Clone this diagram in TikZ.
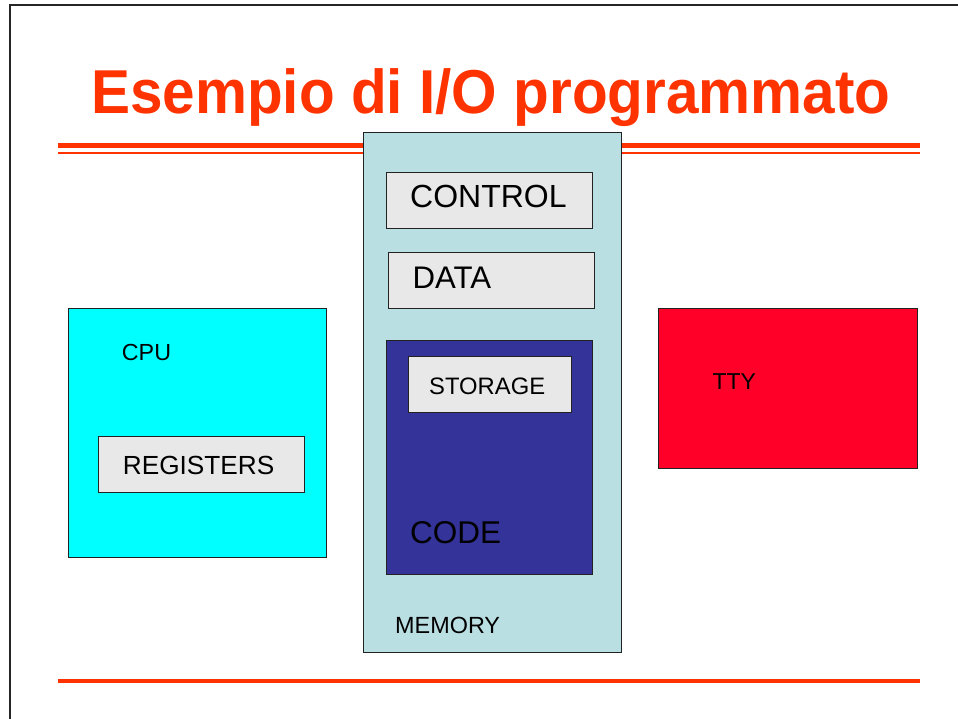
\documentclass[tikz,border=0pt]{standalone}
\usepackage{fontspec}
\setmainfont{Liberation Sans}
\definecolor{titlered}{HTML}{FF3300}
\definecolor{memblue}{HTML}{BADFE3}
\definecolor{boxgray}{HTML}{E8E8E8}
\definecolor{codeblue}{HTML}{333399}
\definecolor{ttyred}{HTML}{FF0029}
\definecolor{cpucyan}{HTML}{00FFFF}
\definecolor{edge}{HTML}{222222}
\tikzset{
  blk/.style={draw=edge, line width=1pt, inner sep=0pt, anchor=north west},
  lbl/.style={inner sep=0pt, anchor=base west, text=black},
}
\newcommand{\fsz}[1]{\fontsize{#1}{#1}\selectfont}
\begin{document}
\begin{tikzpicture}[x=1pt, y=-1pt]
\useasboundingbox (0,0) rectangle (958,719);
\fill[white] (0,0) rectangle (958,719);
% slide frame (top and left edges)
\draw[line width=2pt, black!85] (10,719) -- (10,5) -- (958,5);
% title and rules
\node[inner sep=0pt, anchor=base west, text=titlered, font=\fsz{62}\bfseries] (title) at (91,114) {\scalebox{0.943}[1]{Esempio di I/O programmato}};
\fill[titlered] (58,143.3) rectangle (920,147.7);
\fill[titlered] (58,151.7) rectangle (920,154);
\fill[titlered] (58,679) rectangle (920,683.3);
% memory
\node[blk, fill=memblue, minimum width=258pt, minimum height=520pt] (mem) at (362.5,132.3) {};
\node[blk, fill=boxgray, minimum width=206.5pt, minimum height=56pt] (ctrl) at (385.5,172.2) {};
\node[lbl, font=\fsz{32}] (ctrlt) at (410,208) {CONTROL};
\node[blk, fill=boxgray, minimum width=206.5pt, minimum height=56pt] (data) at (387.5,252.2) {};
\node[lbl, font=\fsz{31.2}] (datat) at (412.5,288) {DATA};
\node[blk, fill=codeblue, minimum width=206pt, minimum height=234pt] (code) at (385.5,340) {};
\node[blk, fill=boxgray, minimum width=163pt, minimum height=56pt] (stor) at (407.5,356.2) {};
\node[lbl, font=\fsz{23.8}] (stort) at (429,394) {STORAGE};
\node[lbl, font=\fsz{31.5}] (codet) at (410,543.5) {CODE};
\node[lbl, font=\fsz{23.4}] (memt) at (395,633.5) {MEMORY};
% cpu
\node[blk, fill=cpucyan, minimum width=258pt, minimum height=249pt] (cpu) at (67.8,307.8) {};
\node[lbl, font=\fsz{23.3}] (cput) at (121.7,360) {CPU};
\node[blk, fill=boxgray, minimum width=206.5pt, minimum height=56pt] (regs) at (97.5,436.2) {};
\node[lbl, font=\fsz{26.2}] (regst) at (122.7,474) {REGISTERS};
% terminal
\node[blk, fill=ttyred, minimum width=259pt, minimum height=160.5pt] (tty) at (657.8,307.8) {};
\node[lbl, font=\fsz{23}] (ttyt) at (712.3,389) {TTY};
\end{tikzpicture}
\end{document}
